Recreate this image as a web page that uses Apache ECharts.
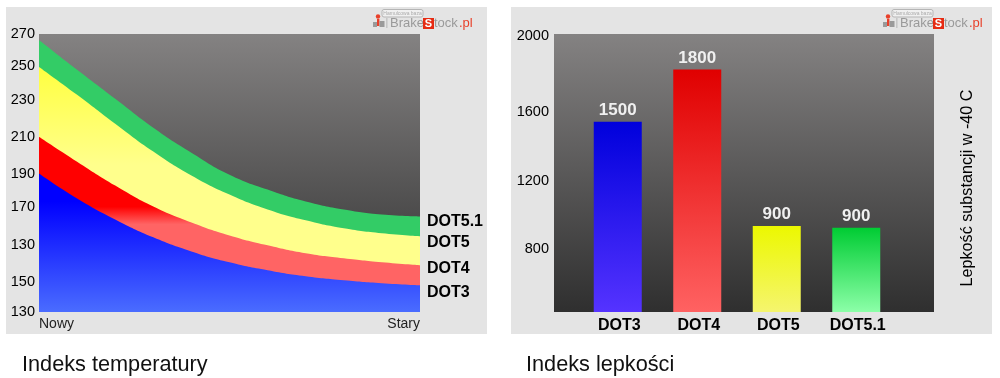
<!DOCTYPE html>
<html><head><meta charset="utf-8">
<style>html,body{margin:0;padding:0;background:#fff}#c{width:1000px;height:378px}</style>
<script src="https://cdn.jsdelivr.net/npm/echarts@6/dist/echarts.min.js"></script>
</head><body><div id="c"></div>
<script>
// --- data ---
const ageCategories = ['Nowy','','','','','','','','','','Stary'];
const dot51 = [266.5,249.3,232.6,215.9,201.5,188.8,180.2,173.3,168.7,165.8,164.7];
const dot5  = [251,234.9,218.2,202.1,188.3,177.3,168.7,162.4,157.8,154.9,153.2];
const dot4  = [210.7,196.3,182.5,170.4,161.2,153.7,148,143.4,140.5,138.2,136.5];
const dot3  = [189.4,175,162.9,152.6,144.5,138.2,133.6,130.1,127.8,126.1,124.9];
const tempTickValues = [109.5,126.7,148,169.9,189.4,210.7,232,251.6,270];
const tempTickLabels = ['130','150','130','170','190','210','230','250','270'];
const fluids = ['DOT3','DOT4','DOT5','DOT5.1'];
const viscosity = [1495,1795,895,885];
const viscosityLabels = ['1500','1800','900','900'];
const viscTickValues = [763,1153,1550,1990];
const viscTickLabels = ['800','1200','1600','2000'];

const FONT = '"Liberation Sans", Arial, sans-serif';
const vgrad = (stops) => ({type:'linear',x:0,y:0,x2:0,y2:1,
  colorStops:stops.map(s=>({offset:s[0],color:s[1]}))});
const plotBg = vgrad([[0,'#848282'],[1,'#2f2f2f']]);
const tickFormatter = (vals,labs)=> (v)=>{const i=vals.indexOf(v);return i<0?'':labs[i];};

function area(name,data,fill,offsetY){
  return {type:'line',name,data,xAxisIndex:0,yAxisIndex:0,smooth:0.5,symbol:'none',showSymbol:false,
    lineStyle:{width:0},areaStyle:{color:fill,opacity:1},silent:true,
    endLabel:{show:true,formatter:name,color:'#000',fontFamily:FONT,fontSize:16,fontWeight:'bold',
      distance:7,offset:[0,offsetY],align:'left'}};
}
const barColors = [
  [[0,'#0000dc'],[1,'#5533ff']],
  [[0,'#e00000'],[1,'#ff6262']],
  [[0,'#ecf800'],[1,'#f5f56e']],
  [[0,'#00cc33'],[1,'#8cffa8']]
];
function logo(dx){
  const grey='#9a9a9a';
  return [
    {type:'rect',z:1,shape:{x:382+dx,y:9.5,width:41,height:7.5,r:2},style:{fill:'#f0f0f0',stroke:'#b5b5b5',lineWidth:1}},
    {type:'text',z:2,style:{x:402.5+dx,y:13.5,text:'Hamulcowa baza',fill:'#aaa',font:'5px '+FONT,align:'center',verticalAlign:'middle'}},
    {type:'circle',z:2,shape:{cx:378+dx,cy:16.5,r:2.2},style:{fill:'#e8402a'}},
    {type:'rect',z:2,shape:{x:377+dx,y:19,width:2.4,height:7},style:{fill:'#e8402a'}},
    {type:'rect',z:2,shape:{x:373+dx,y:22,width:4,height:5},style:{fill:grey}},
    {type:'rect',z:2,shape:{x:379.5+dx,y:21,width:5,height:6},style:{fill:grey}},
    {type:'rect',z:2,shape:{x:386.5+dx,y:18,width:0.8,height:10},style:{fill:'#aaa'}},
    {type:'text',z:2,style:{x:390+dx,y:23.5,text:'Brake',fill:grey,font:'13px '+FONT,align:'left',verticalAlign:'middle'}},
    {type:'rect',z:2,shape:{x:423+dx,y:18,width:11,height:11},style:{fill:'#e62b12'}},
    {type:'text',z:3,style:{x:428.5+dx,y:23.5,text:'S',fill:'#fff',font:'bold 11px '+FONT,align:'center',verticalAlign:'middle'}},
    {type:'text',z:2,style:{x:434+dx,y:23.5,text:'tock',fill:grey,font:'13px '+FONT,align:'left',verticalAlign:'middle'}},
    {type:'text',z:2,style:{x:459+dx,y:23.5,text:'.pl',fill:'#e8402a',font:'13px '+FONT,align:'left',verticalAlign:'middle'}}
  ];
}

const chart = echarts.init(document.getElementById('c'),null,{renderer:'canvas'});
chart.setOption({
  animation:false,
  backgroundColor:'#fff',
  title:[
    {text:'Indeks temperatury',left:22,top:354,padding:0,textStyle:{fontFamily:FONT,fontSize:21.7,fontWeight:'normal',color:'#111'}},
    {text:'Indeks lepkości',left:526,top:354,padding:0,textStyle:{fontFamily:FONT,fontSize:21.7,fontWeight:'normal',color:'#111'}}
  ],
  graphic:{elements:[
    {type:'rect',z:-3,shape:{x:6,y:7,width:481,height:327},style:{fill:'#e4e4e4'}},
    {type:'rect',z:-3,shape:{x:511,y:7,width:481,height:327},style:{fill:'#e4e4e4'}},
    {type:'rect',z:-2,shape:{x:554,y:34,width:380,height:278},style:{fill:plotBg}},
    {type:'text',z:2,x:968,y:188,rotation:Math.PI/2,style:{x:0,y:0,text:'Lepkość substancji w -40 C',fill:'#000',
      font:'16.2px '+FONT,align:'center',verticalAlign:'middle'}},
    ...logo(0),...logo(510)
  ]},
  grid:[
    {left:39,top:34,width:381,height:278,show:true,borderWidth:0,backgroundColor:plotBg},
    {left:578,top:34,width:318,height:278,show:false}
  ],
  xAxis:[
    {type:'category',gridIndex:0,data:ageCategories,boundaryGap:false,
      axisLine:{show:false},axisTick:{show:false},splitLine:{show:false},
      axisLabel:{interval:0,color:'#222',fontFamily:FONT,fontSize:14,margin:5,alignMinLabel:'left',alignMaxLabel:'right'}},
    {type:'category',gridIndex:1,data:fluids,
      axisLine:{show:false},axisTick:{show:false},splitLine:{show:false},
      axisLabel:{interval:0,color:'#000',fontFamily:FONT,fontSize:16,fontWeight:'bold',margin:6,padding:[0,0,0,3]}}
  ],
  yAxis:[
    {type:'value',gridIndex:0,min:109.5,max:270,
      axisLine:{show:false},axisTick:{show:false},splitLine:{show:false},
      axisLabel:{customValues:tempTickValues,formatter:tickFormatter(tempTickValues,tempTickLabels),
        color:'#000',fontFamily:FONT,fontSize:14.5,margin:4,showMinLabel:true,showMaxLabel:true}},
    {type:'value',gridIndex:1,min:400,max:2000,
      axisLine:{show:false},axisTick:{show:false},splitLine:{show:false},
      axisLabel:{customValues:viscTickValues,formatter:tickFormatter(viscTickValues,viscTickLabels),
        color:'#000',fontFamily:FONT,fontSize:14.5,margin:29,showMaxLabel:true}}
  ],
  series:[
    area('DOT5.1',dot51,'#33cc66',5),
    area('DOT5',dot5,vgrad([[0,'#ffff40'],[0.4,'#ffff8c'],[1,'#ffff8c']]),6),
    area('DOT4',dot4,vgrad([[0,'#ff0000'],[0.4,'#ff0000'],[0.5,'#ff6464'],[1,'#ff6464']]),3),
    area('DOT3',dot3,vgrad([[0,'#0000ff'],[0.2,'#0000ff'],[1,'#4a6cff']]),7),
    {type:'bar',xAxisIndex:1,yAxisIndex:1,barWidth:48,silent:true,
      data:viscosity.map((v,i)=>({value:v,itemStyle:{color:vgrad(barColors[i])}})),
      label:{show:true,position:'top',distance:3,color:'#f0f0f0',fontFamily:FONT,fontSize:17,fontWeight:'bold',
        formatter:(p)=>viscosityLabels[p.dataIndex]}}
  ]
});
</script></body></html>
